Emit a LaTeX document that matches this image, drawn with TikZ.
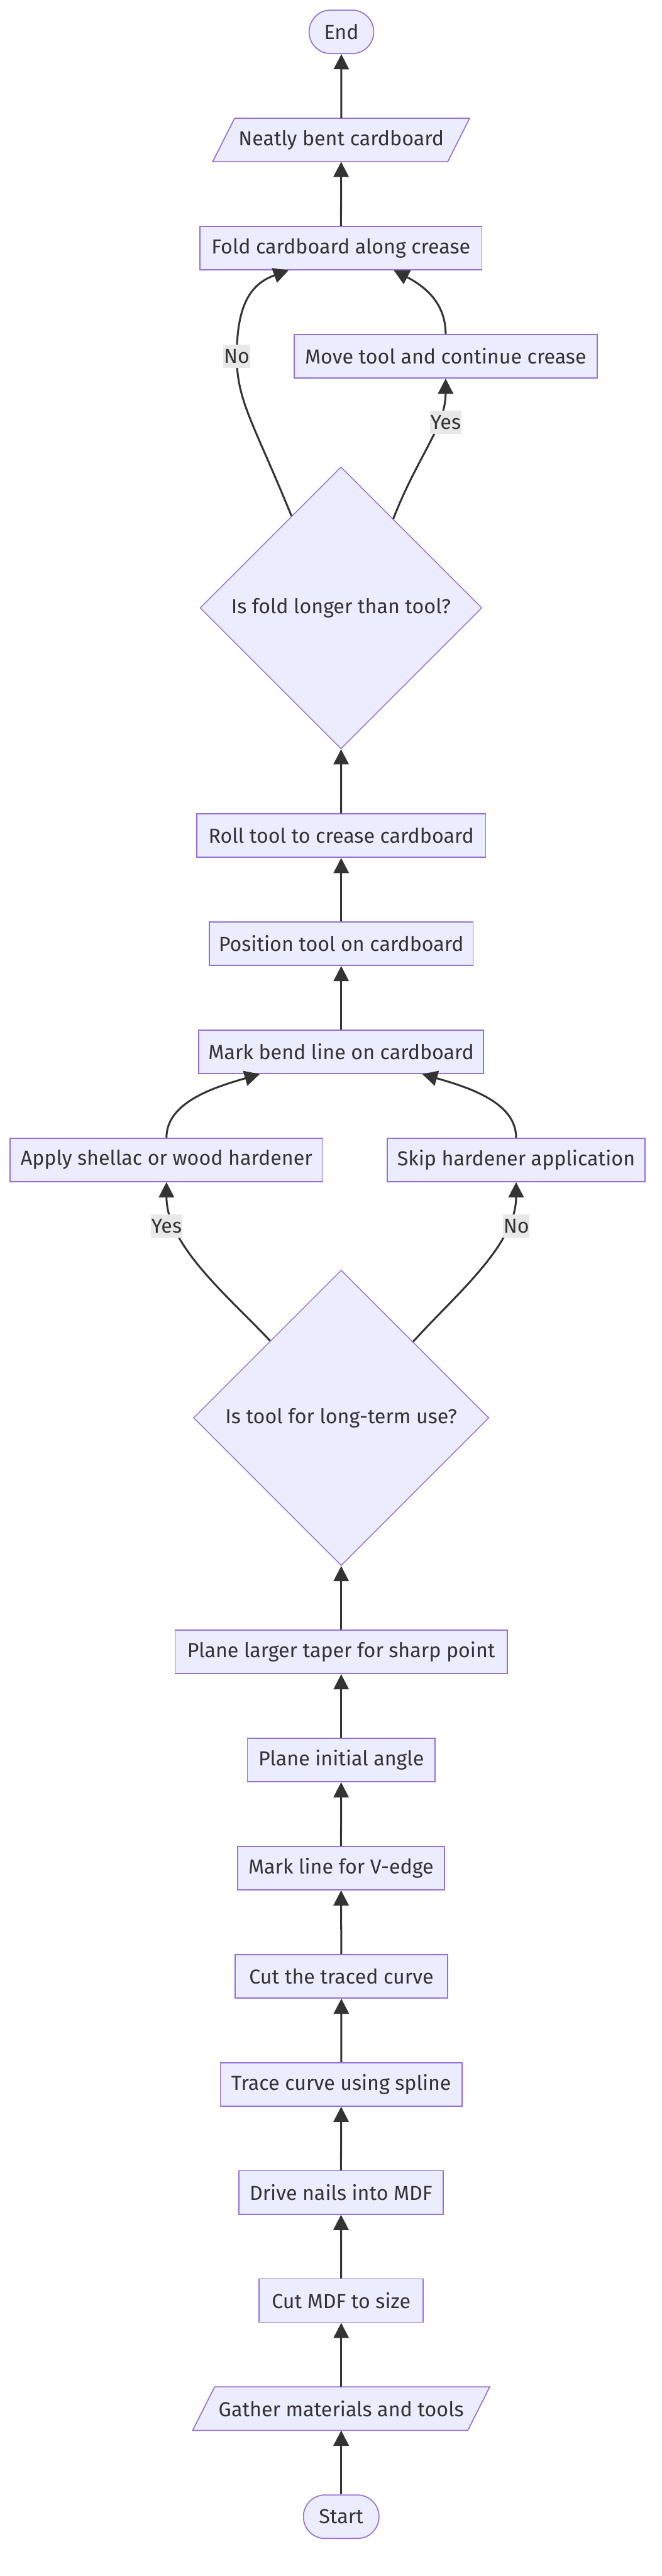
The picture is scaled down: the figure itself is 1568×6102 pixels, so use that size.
\documentclass[tikz,border=0pt]{standalone}
\usepackage{fontspec}
\setmainfont{Fira Sans}
\usetikzlibrary{arrows.meta,shapes.geometric,calc}
\definecolor{nfill}{HTML}{ECECFF}
\definecolor{nborder}{HTML}{9370DB}
\definecolor{ink}{HTML}{333333}
\definecolor{lblbg}{HTML}{E8E8E8}
\begin{document}
\begin{tikzpicture}[x=1pt,y=-1pt,
  txt/.style={text=ink,font=\fontsize{48}{56}\selectfont},
  box/.style={txt,rectangle,draw=nborder,fill=nfill,line width=2.5pt,minimum height=103pt,inner sep=0pt},
  pill/.style={box,rounded corners=51pt},
  para/.style={txt,rectangle,minimum height=103pt,inner sep=0pt},
  paraline/.style={draw=nborder,fill=nfill,line width=2.5pt},
  dec/.style={txt,diamond,draw=nborder,fill=nfill,line width=2pt,inner sep=0pt,aspect=1},
  flow/.style={draw=ink,line width=4.5pt,-{Triangle[length=36pt,width=36pt]}},
  lbl/.style={txt,fill=lblbg,inner xsep=1pt,inner ysep=0pt,minimum height=56pt}
]
\useasboundingbox (0,0) rectangle (1568,6102);

% parallelogram backgrounds are drawn before their text nodes
\path (808.5,331.5) coordinate (neatc);
\path (808.5,5705.5) coordinate (gatherc);
\filldraw[paraline] ($(neatc)+(-252.5,-51.5)$) -- ($(neatc)+(304.5,-51.5)$) -- ($(neatc)+(252.5,51.5)$) -- ($(neatc)+(-304.5,51.5)$) -- cycle;
\filldraw[paraline] ($(gatherc)+(-300,-51.5)$) -- ($(gatherc)+(352,-51.5)$) -- ($(gatherc)+(300,51.5)$) -- ($(gatherc)+(-352,51.5)$) -- cycle;

\node[pill,minimum width=153pt] (end) at (809,75.5) {End};
\node[para,minimum width=557pt] (neat) at (neatc) {Neatly bent cardboard};
\node[box,minimum width=668pt] (fold) at (808,587.5) {Fold cardboard along crease};
\node[box,minimum width=718pt] (move) at (1056,844) {Move tool and continue crease};
\node[dec,minimum size=668pt] (d1) at (808,1440) {Is fold longer than tool?};
\node[box,minimum width=685pt] (roll) at (808.5,1979.5) {Roll tool to crease cardboard};
\node[box,minimum width=625pt] (pos) at (808.5,2235.5) {Position tool on cardboard};
\node[box,minimum width=675pt] (mark) at (808.5,2491.5) {Mark bend line on cardboard};
\node[box,minimum width=741pt] (apply) at (394.5,2747.5) {Apply shellac or wood hardener};
\node[box,minimum width=610pt] (skip) at (1223,2747.5) {Skip hardener application};
\node[dec,minimum size=700pt] (d2) at (808.5,3358.5) {Is tool for long-term use?};
\node[box,minimum width=787pt] (planel) at (808.5,3913) {Plane larger taper for sharp point};
\node[box,minimum width=445pt] (planei) at (808.5,4169) {Plane initial angle};
\node[box,minimum width=490pt] (markv) at (808,4425) {Mark line for V-edge};
\node[box,minimum width=504pt] (cutc) at (809,4681.5) {Cut the traced curve};
\node[box,minimum width=573pt] (trace) at (808.5,4937.5) {Trace curve using spline};
\node[box,minimum width=484pt] (drive) at (808,5193.5) {Drive nails into MDF};
\node[box,minimum width=389pt] (cutm) at (808.5,5449.5) {Cut MDF to size};
\node[para,minimum width=652pt] (gather) at (gatherc) {Gather materials and tools};
\node[pill,minimum width=179pt] (start) at (808.5,5961.5) {Start};

% straight connectors
\draw[flow] (start) -- (gather);
\draw[flow] (gather) -- (cutm);
\draw[flow] (cutm) -- (drive);
\draw[flow] (drive) -- (trace);
\draw[flow] (trace) -- (cutc);
\draw[flow] (cutc) -- (markv);
\draw[flow] (markv) -- (planei);
\draw[flow] (planei) -- (planel);
\draw[flow] (planel) -- (d2);
\draw[flow] (mark) -- (pos);
\draw[flow] (pos) -- (roll);
\draw[flow] (roll) -- (d1);
\draw[flow] (fold) -- (neat);
\draw[flow] (neat) -- (end);

% curved connectors
\draw[flow] ($(d2.north)!0.48!(d2.west)$) .. controls (540,3070) and (394.5,2950) .. (apply.south);
\draw[flow] ($(d2.north)!0.486!(d2.east)$) .. controls (1076,3070) and (1223,2950) .. (skip.south);
\draw[flow] (apply.north) .. controls (394.5,2610) and (510,2575) .. ($(mark.south)+(-193,0)$);
\draw[flow] (skip.north) .. controls (1223,2610) and (1107,2575) .. ($(mark.south)+(192,0)$);
\draw[flow] ($(d1.north)!0.35!(d1.west)$) .. controls (600,1000) and (561,950) .. (561,844) .. controls (561,720) and (595,672) .. ($(fold.south)+(-124,0)$);
\draw[flow] ($(d1.north)!0.37!(d1.east)$) .. controls (990,1080) and (1056,1010) .. (move.south);
\draw[flow] (move.north) .. controls (1056,720) and (1010,680) .. ($(fold.south)+(125,0)$);

% edge labels
\node[lbl] (lno1) at (561,844) {No};
\node[lbl] (lyes1) at (1056,1000.5) {Yes};
\node[lbl] (lyes2) at (394.5,2904) {Yes};
\node[lbl] (lno2) at (1223.5,2904) {No};
\end{tikzpicture}
\end{document}
